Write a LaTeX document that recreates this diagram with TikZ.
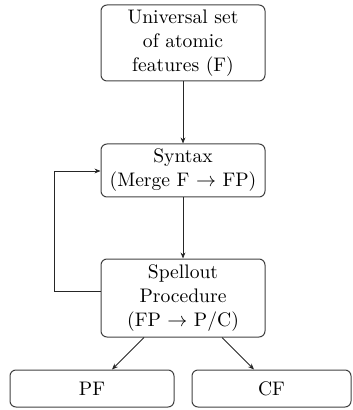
\documentclass[tikz,border=0pt]{standalone}
\usetikzlibrary{arrows.meta}
\begin{document}
\begin{tikzpicture}[x=0.5pt,y=-0.5pt,
  box/.style={draw=black!75, rounded corners=3pt, line width=0.5pt, align=center, inner sep=0pt,
    font=\fontsize{9.8}{12}\selectfont},
  conn/.style={draw=black!85, line width=0.4pt, -{Stealth[length=3pt,width=2.4pt]}}]
\useasboundingbox (0,0) rectangle (352,410);
\node[box, minimum width=82pt, minimum height=38pt] (F) at (183,43) {Universal set\\of atomic\\features (F)};
\node[box, minimum width=82pt, minimum height=26.5pt] (S) at (183,170.5) {Syntax\\(Merge F $\rightarrow$ FP)};
\node[box, minimum width=82pt, minimum height=39pt] (P) at (183,298) {Spellout\\Procedure\\(FP $\rightarrow$ P/C)};
\node[box, minimum width=82pt, minimum height=18.5pt] (PF) at (92,388.5) {PF};
\node[box, minimum width=79.5pt, minimum height=18.5pt] (CF) at (271.5,388.5) {CF};
\coordinate (L1) at (54,291);
\coordinate (L2) at (54,171);
\draw[conn] (F) -- (S);
\draw[conn] (S) -- (P);
\draw[conn] (P.west |- L1) -- (L1) -- (L2) -- (S.west |- L2);
\draw[conn] (P.south -| 144,0) -- (PF.north -| 112,0);
\draw[conn] (P.south -| 222,0) -- (CF.north -| 254,0);
\end{tikzpicture}
\end{document}
